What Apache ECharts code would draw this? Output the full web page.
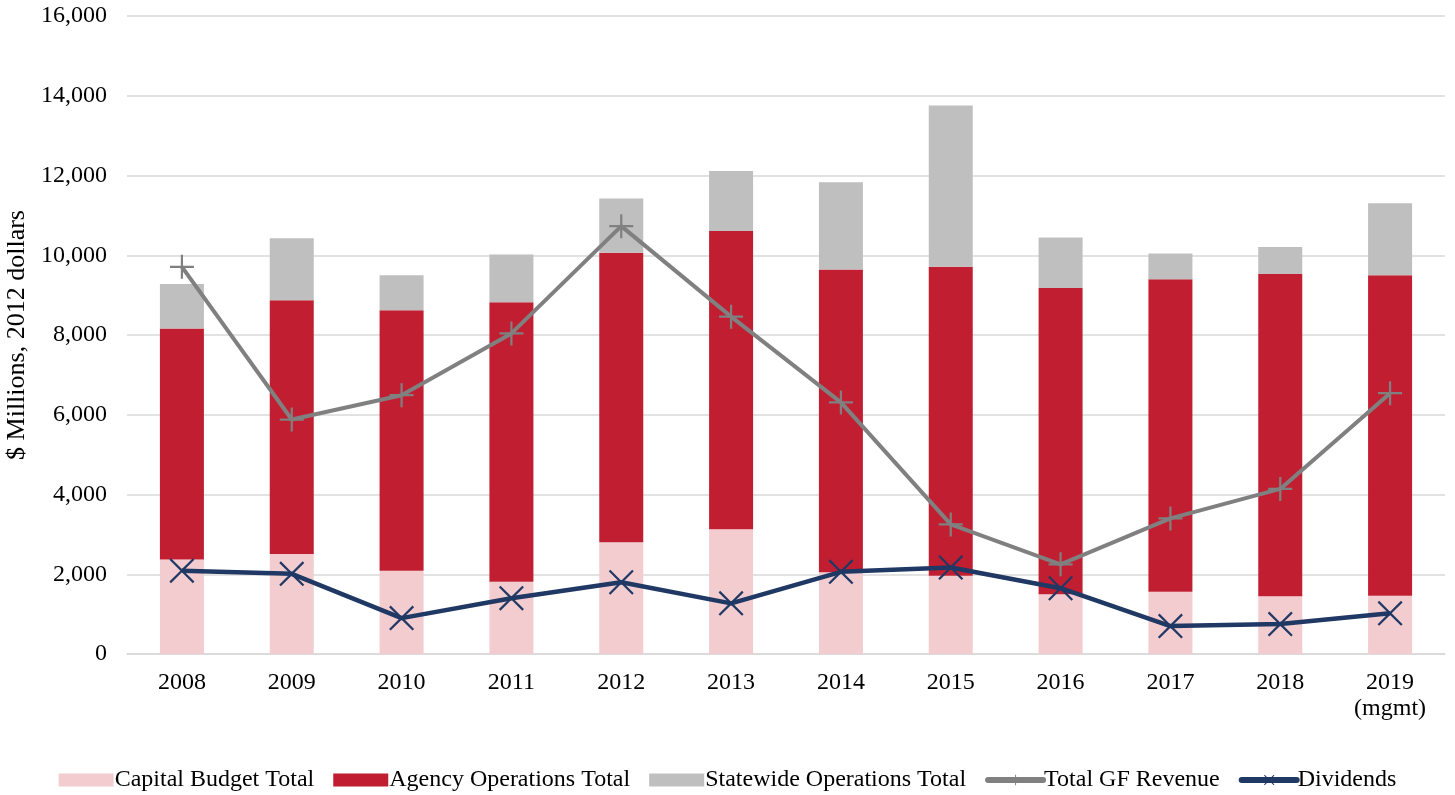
<!DOCTYPE html>
<html>
<head>
<meta charset="utf-8">
<script src="https://cdn.jsdelivr.net/npm/echarts@6/dist/echarts.min.js"></script>
<style>
  html, body { margin: 0; padding: 0; background: #fff; }
  #chart { width: 1455px; height: 795px; }
</style>
</head>
<body>
<div id="chart"></div>
<script>
// categories and series
var years = ['2008', '2009', '2010', '2011', '2012', '2013', '2014', '2015', '2016', '2017', '2018', '2019\n(mgmt)'];
var capitalBudget = [2370, 2510, 2090, 1810, 2800, 3130, 2050, 1960, 1500, 1560, 1450, 1460];
var agencyOps = [5790, 6360, 6530, 7010, 7260, 7480, 7590, 7750, 7680, 7840, 8080, 8040];
var statewideOps = [1120, 1555, 880, 1200, 1365, 1500, 2190, 4045, 1265, 645, 675, 1805];
var gfRevenue = [9710, 5880, 6490, 8040, 10730, 8460, 6310, 3250, 2250, 3400, 4140, 6540];
var dividends = [2090, 2010, 900, 1400, 1800, 1270, 2060, 2170, 1650, 700, 750, 1020];

var FONT = '"Liberation Serif", "Times New Roman", serif';
var plusPath = 'path://M10.9 0 H13.1 V10.9 H24 V13.1 H13.1 V24 H10.9 V13.1 H0 V10.9 H10.9 Z';
var crossPath = 'path://M0 1.5 L1.5 0 L12 10.5 L22.5 0 L24 1.5 L13.5 12 L24 22.5 L22.5 24 L12 13.5 L1.5 24 L0 22.5 L10.5 12 Z';

var chart = echarts.init(document.getElementById('chart'));

var option = {
	backgroundColor: '#fff',
	animation: false,
	textStyle: { fontFamily: FONT, color: '#000' },
	grid: { left: 127, right: 10, top: 16, bottom: 141, containLabel: false, outerBoundsMode: 'none' },
	legend: {
		top: 763,
		left: 'center',
		itemWidth: 55,
		itemHeight: 13,
		itemGap: 19,
		textStyle: { fontFamily: FONT, fontSize: 24, color: '#000', padding: [0, 0, 0, -4] },
		data: [
			{ name: 'Capital Budget Total', icon: 'rect' },
			{ name: 'Agency Operations Total', icon: 'rect' },
			{ name: 'Statewide Operations Total', icon: 'rect' },
			{ name: 'Total GF Revenue', lineStyle: { width: 6, cap: 'round' } },
			{ name: 'Dividends', lineStyle: { width: 6, cap: 'round' } }
		]
	},
	xAxis: {
		type: 'category',
		data: years,
		axisLine: { lineStyle: { color: '#d9d9d9', width: 1.5 } },
		axisTick: { show: false },
		axisLabel: { fontFamily: FONT, fontSize: 24, color: '#000', lineHeight: 26, margin: 16 }
	},
	yAxis: {
		type: 'value',
		min: 0,
		max: 16000,
		interval: 2000,
		name: '$ Millions, 2012 dollars',
		nameLocation: 'middle',
		nameGap: 97,
		nameTextStyle: { fontFamily: FONT, fontSize: 26, color: '#000' },
		axisLine: { show: false },
		axisTick: { show: false },
		splitLine: { lineStyle: { color: '#d9d9d9', width: 1.5 } },
		axisLabel: {
			fontFamily: FONT, fontSize: 24, color: '#000', margin: 20,
			formatter: function (v) { return v.toLocaleString('en-US'); }
		}
	},
	series: [
		{
			name: 'Capital Budget Total', type: 'bar', stack: 'total', barWidth: 44,
			itemStyle: { color: '#f3ccd0' }, data: capitalBudget
		},
		{
			name: 'Agency Operations Total', type: 'bar', stack: 'total', barWidth: 44,
			itemStyle: { color: '#c11f31' }, data: agencyOps
		},
		{
			name: 'Statewide Operations Total', type: 'bar', stack: 'total', barWidth: 44,
			itemStyle: { color: '#bfbfbf' }, data: statewideOps
		},
		{
			name: 'Total GF Revenue', type: 'line',
			symbol: plusPath, symbolSize: 24, showAllSymbol: true,
			lineStyle: { color: '#808080', width: 4 },
			itemStyle: { color: '#808080' },
			data: gfRevenue
		},
		{
			name: 'Dividends', type: 'line',
			symbol: crossPath, symbolSize: 25, showAllSymbol: true,
			lineStyle: { color: '#1f3864', width: 4.5 },
			itemStyle: { color: '#1f3864' },
			data: dividends
		}
	]
};

chart.setOption(option);
</script>
</body>
</html>
